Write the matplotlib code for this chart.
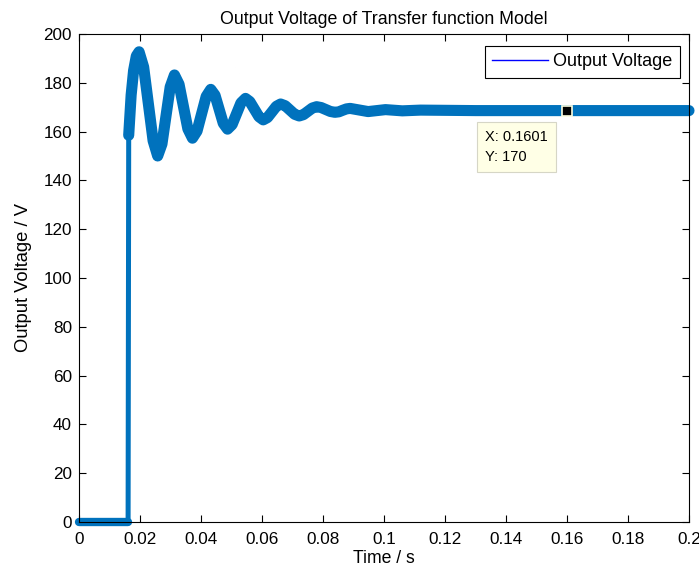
import matplotlib
matplotlib.use('Agg')
from matplotlib import pyplot as plt
from matplotlib.lines import Line2D

# values (time in s, voltage in V)
t = [0.0, 0.0161, 0.0163, 0.0171, 0.0179, 0.0188, 0.0197,
     0.0212, 0.02275, 0.0243, 0.0258,
     0.0272, 0.02855, 0.0299, 0.0313,
     0.0328, 0.03425, 0.0357, 0.0372,
     0.0387, 0.0402, 0.0417, 0.0432,
     0.0446, 0.04595, 0.0473, 0.0487,
     0.0502, 0.05165, 0.0531, 0.0546,
     0.0560, 0.0575, 0.0590, 0.0604,
     0.0618, 0.06325, 0.0647, 0.0661,
     0.0676, 0.06915, 0.0707, 0.0722,
     0.0736, 0.07505, 0.0765, 0.0779,
     0.0794, 0.0809, 0.0824, 0.0839,
     0.0852, 0.0864, 0.0877, 0.0889,
     0.0948, 0.1005, 0.106, 0.112, 0.13, 0.16, 0.2]
v = [0.0, 0.0, 158.5, 175.0, 185.0, 191.0, 192.7,
     186.45, 171.35, 156.25, 150.0,
     154.9, 166.6, 178.3, 183.2,
     179.4, 170.25, 161.1, 157.3,
     160.2, 167.3, 174.4, 177.3,
     174.9, 169.15, 163.4, 161.0,
     162.85, 167.3, 171.75, 173.6,
     172.3, 169.2, 166.1, 164.8,
     165.75, 168.05, 170.35, 171.3,
     170.6, 168.85, 167.1, 166.4,
     166.95, 168.3, 169.65, 170.2,
     169.85, 169.05, 168.25, 167.9,
     168.1, 168.7, 169.3, 169.5,
     168.2, 169.0, 168.5, 168.8, 168.6, 168.6, 168.6]
step_idx = 2  # first sample after the jump

tip_x = 0.16
tip_y = 168.6
tip_text = 'X: 0.1601\nY: 170'

xticks = [0, 0.02, 0.04, 0.06, 0.08, 0.1, 0.12, 0.14, 0.16, 0.18, 0.2]
xticklabels = ['0', '0.02', '0.04', '0.06', '0.08', '0.1', '0.12', '0.14', '0.16', '0.18', '0.2']
yticks = list(range(0, 201, 20))

plt.rcParams['font.family'] = ['Liberation Sans', 'DejaVu Sans']

fig = plt.figure(figsize=(6.99, 5.73), dpi=100)
ax = fig.add_axes([0.113, 0.089, 0.8727, 0.8517])

col = '#0072BD'
ax.plot(t, v, color=col, lw=3.6, clip_on=False, zorder=2)
ax.plot(t[:step_idx], v[:step_idx], color=col, lw=6.0, solid_capstyle='round', clip_on=False, zorder=2)
ax.plot(t[step_idx:], v[step_idx:], color=col, lw=8.0, solid_capstyle='round',
        solid_joinstyle='round', clip_on=False, zorder=2)

ax.set_xlim(0, 0.2)
ax.set_ylim(0, 200)
ax.set_xticks(xticks)
ax.set_xticklabels(xticklabels)
ax.set_yticks(yticks)
ax.tick_params(direction='in', top=True, right=True, length=5, width=0.8, labelsize=12.3)
ax.tick_params(axis='x', pad=7)
ax.tick_params(axis='y', pad=5)
for s in ax.spines.values():
    s.set_linewidth(0.8)

ax.set_title('Output Voltage of Transfer function Model', fontsize=12.8, pad=7)
ax.set_xlabel('Time / s', fontsize=12.7, labelpad=2)
ax.set_ylabel('Output Voltage / V', fontsize=13.2, labelpad=8)

# data tip
ax.plot([tip_x], [tip_y], marker='s', ms=7.2, color='black', mec='#FFFFE0', mew=1.2, zorder=5, clip_on=False)
ax.text(0.1331, 160.5, tip_text, fontsize=10.5, va='top', ha='left', linespacing=1.55, zorder=4,
        bbox=dict(boxstyle='square,pad=0.55', fc='#FFFFE6', ec='#D6D6C6', lw=0.8))

proxy = Line2D([], [], color='#0000FF', lw=1)
leg = ax.legend([proxy], ['Output Voltage'], loc='upper right', fontsize=13, fancybox=False,
                framealpha=1, edgecolor='black', handlelength=3.1, handletextpad=0.3,
                borderpad=0.4, borderaxespad=0, bbox_to_anchor=(0.985, 0.975))
leg.get_frame().set_linewidth(0.8)

fig.savefig('out.png', dpi=100)
